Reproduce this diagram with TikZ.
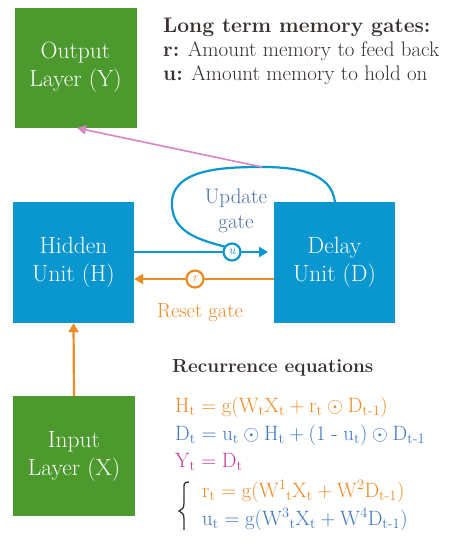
\documentclass[tikz,border=0pt]{standalone}
\usepackage{amsmath,amssymb}
\usetikzlibrary{arrows.meta}
\definecolor{layergreen}{HTML}{4C9A2E}
\definecolor{unitblue}{HTML}{0A96CF}
\definecolor{gateorange}{HTML}{EE8A22}
\definecolor{outpink}{HTML}{D985C4}
\definecolor{eqblue}{HTML}{3B78C2}
\definecolor{eqmagenta}{HTML}{C23A98}
\definecolor{gatetext}{HTML}{4A6FA8}
\definecolor{darktext}{HTML}{3A3030}
\newcommand{\mn}{\text{-}}
\tikzset{
  layerbox/.style={fill=layergreen, draw=none, minimum width=122pt, minimum height=120pt, text=white,
    align=center, font=\fontsize{23.5}{28}\selectfont, inner sep=0pt},
  unitbox/.style={fill=unitblue, draw=none, minimum width=121pt, minimum height=121pt, text=white,
    align=center, font=\fontsize{23.5}{28}\selectfont, inner sep=0pt},
  gatecirc/.style={circle, draw=white, line width=2.2pt, fill=white, minimum size=17pt, inner sep=0pt,
    font=\fontsize{13}{13}\selectfont\itshape},
  conn/.style={line width=2.2pt},
  tip/.style={-{Triangle[length=9pt,width=10pt]}},
  legendline/.style={anchor=base west, inner sep=0pt, text=darktext, font=\fontsize{21}{21}\selectfont},
  eqtext/.style={anchor=base west, inner sep=0pt, font=\fontsize{21}{21}\selectfont},
}
\begin{document}
\begin{tikzpicture}[x=1pt,y=-1pt]
\useasboundingbox (0,0) rectangle (452,558);
\fill[white] (0,0) rectangle (452,558);

% layers and units
\node[layerbox] (out) at (75.5,67.5) {Output\\Layer (Y)};
\node[layerbox] (in) at (74,456) {Input\\Layer (X)};
\node[unitbox] (hid) at (73.5,262.5) {Hidden\\Unit (H)};
\node[unitbox] (del) at (334.5,262.5) {Delay\\Unit (D)};

% anchor points for the connectors
\coordinate (hu) at (hid.east |- 0,252);
\coordinate (du) at (268,252);
\coordinate (dr) at (del.west |- 0,279);
\coordinate (hr) at (hid.east |- 0,279);
\coordinate (loopstart) at (335,203);
\coordinate (looptop) at (262,167);
\coordinate (outtip) at (77,128);

% update gate loop from the delay unit back into the forward path
\draw[conn, unitblue] (loopstart) to[out=95,in=0] (looptop) to[out=180,in=95] (172,207)
  to[out=-85,in=165] (226,247);
% output connector from the loop to the output layer
\draw[line width=1.6pt, outpink, -{Triangle[length=9pt,width=9pt]}] (looptop) -- (outtip);

% forward path through the update gate
\draw[conn, unitblue, tip] (hu) -- (du);
\node[gatecirc, draw=unitblue, text=unitblue] (ug) at (232,252) {u};

% reset path back to the hidden unit
\draw[conn, gateorange, tip] (dr) -- (hr);
\node[gatecirc, draw=gateorange, text=gateorange] (rg) at (195,279) {r};

% input to hidden
\draw[conn, gateorange, tip] (in.north) -- (hid.south);

% gate labels
\node[text=gatetext, anchor=base, inner sep=0pt, font=\fontsize{21}{21}\selectfont] (ulab1) at (236,203) {Update};
\node[text=gatetext, anchor=base, inner sep=0pt, font=\fontsize{21}{21}\selectfont] (ulab2) at (236,228) {gate};
\node[text=gateorange, anchor=base, inner sep=0pt, font=\fontsize{20.5}{20.5}\selectfont] (rlab) at (200,317) {Reset gate};

% legend
\node[legendline] (leg1) at (163,32) {\textbf{Long term memory gates:}};
\node[legendline] (leg2) at (163,56) {\textbf{r:} Amount memory to feed back};
\node[legendline] (leg3) at (163,80) {\textbf{u:} Amount memory to hold on};

% recurrence equations
\node[eqtext, text=darktext, font=\fontsize{19}{19}\selectfont\bfseries] (rech) at (172,372) {Recurrence equations};
\node[eqtext, text=gateorange] (eqh) at (175,412) {$\mathrm{H_t = g(W_tX_t + r_t} \odot \mathrm{D_{t\mn1})}$};
\node[eqtext, text=eqblue] (eqd) at (175,440) {$\mathrm{D_t = u_t} \odot \mathrm{H_t + (1 \;\mn\; u_t)} \odot \mathrm{D_{t\mn1}}$};
\node[eqtext, text=eqmagenta] (eqy) at (175,467) {$\mathrm{Y_t = D_t}$};
\node[eqtext, text=gateorange] (eqr) at (202,497) {\smash{$\mathrm{r_t = g(W^1{}_tX_t + W^2D_{t\mn1})}$}};
\node[eqtext, text=eqblue] (equ) at (202,525) {\smash{$\mathrm{u_t = g(W^3{}_tX_t + W^4D_{t\mn1})}$}};
\draw[line width=1.3pt, darktext] (189,482) .. controls (183,482) and (184,484) .. (184,492) -- (184,503)
  .. controls (184,508) and (182,510) .. (179,511) .. controls (182,512) and (184,514) .. (184,519) -- (184,530);
\end{tikzpicture}
\end{document}
